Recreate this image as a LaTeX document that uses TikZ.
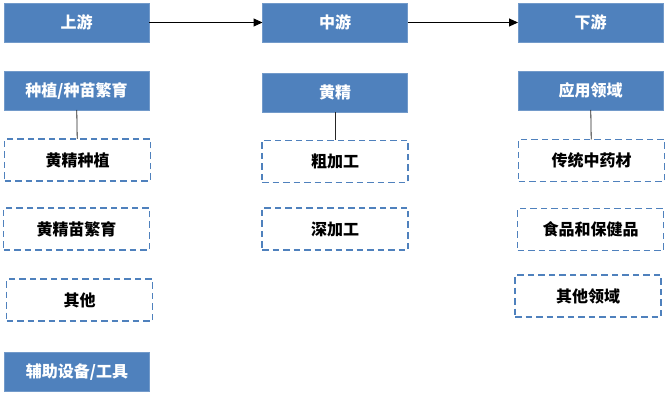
\documentclass[tikz,border=0pt]{standalone}
\usepackage{fontspec}
\setmainfont{Noto Sans CJK SC}
\usetikzlibrary{arrows.meta}
\definecolor{hdblue}{HTML}{4F81BD}
\tikzset{
  stage/.style={draw=hdblue!80!white,fill=hdblue,text=white,font=\bfseries\fontsize{16}{18}\selectfont,
    minimum width=145pt,minimum height=39pt,inner sep=0pt,outer sep=0pt},
  item/.style={draw=hdblue,line width=1.5pt,dash pattern=on 6.5pt off 4pt,text=black,
    font=\bfseries\fontsize{16}{18}\selectfont,minimum width=146pt,minimum height=42pt,inner sep=0pt,outer sep=0pt},
  flow/.style={line width=1pt,-{Triangle[length=9pt,width=8pt]}},
  link/.style={line width=0.8pt,black!85}
}
\begin{document}
\begin{tikzpicture}[x=1pt,y=-1pt]
\useasboundingbox (0,0) rectangle (670,401);
% top row
\node[stage] (up) at (76.5,22.5) {上游};
\node[stage] (mid) at (335,22.5) {中游};
\node[stage] (down) at (590.5,22.5) {下游};
\draw[flow] (up) -- (mid);
\draw[flow] (mid) -- (down);
% upstream
\node[stage] (plant) at (76.5,90.5) {种植/种苗繁育};
\node[item] (grow) at (77.5,160) {黄精种植};
\node[item] (seed) at (76.5,229) {黄精苗繁育};
\node[item] (other) at (79.5,300) {其他};
\node[stage] (tool) at (77,372) {辅助设备/工具};
\draw[link] (plant) -- (grow);
% midstream
\node[stage] (hj) at (335,92.5) {黄精};
\node[item] (rough) at (335,161.5) {粗加工};
\node[item] (deep) at (335,229) {深加工};
\draw[link] (hj) -- (rough);
% downstream
\node[stage] (use) at (590.5,90.5) {应用领域};
\node[item] (tcm) at (591.5,160.5) {传统中药材};
\node[item] (food) at (590.5,229.5) {食品和保健品};
\node[item] (rest) at (588,296) {其他领域};
\draw[link] (use) -- (tcm);
\end{tikzpicture}
\end{document}
